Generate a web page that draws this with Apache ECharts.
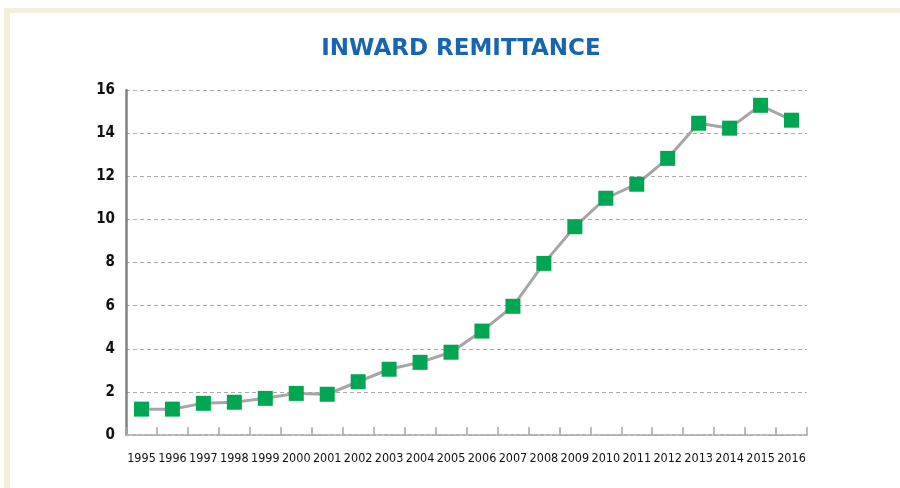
<!DOCTYPE html>
<html>
<head>
<meta charset="utf-8">
<script src="https://cdn.jsdelivr.net/npm/echarts@6/dist/echarts.min.js"></script>
<style>
  html, body { margin: 0; padding: 0; background: #fff; }
  #frame {
    position: absolute; left: 0; top: 0; width: 900px; height: 488px;
    box-sizing: border-box;
    border-top: 5px solid #f3efdc; border-left: 6px solid #f3efdc;
    margin-top: 8px; margin-left: 4px;
  }
  #chart { position: absolute; left: 0; top: 0; width: 900px; height: 488px; }
</style>
</head>
<body>
<div id="frame"></div>
<div id="chart"></div>
<script>
// 数据
const years = ['1995','1996','1997','1998','1999','2000','2001','2002','2003','2004','2005',
  '2006','2007','2008','2009','2010','2011','2012','2013','2014','2015','2016'];
const remittance = [1.2, 1.2, 1.47, 1.52, 1.7, 1.93, 1.89, 2.47, 3.05, 3.37, 3.84,
  4.82, 5.97, 7.96, 9.66, 10.98, 11.63, 12.83, 14.46, 14.23, 15.29, 14.6];
const yTicks = { min: 0, max: 16, interval: 2 };

const narrow = "'DejaVu Sans Condensed', 'Liberation Sans Narrow', 'Roboto Condensed', Roboto, sans-serif";

const myChart = echarts.init(document.getElementById('chart'));
myChart.setOption({
  animation: false,
  title: {
    text: 'INWARD REMITTANCE',
    left: 456,
    top: 33,
    textAlign: 'center',
    textStyle: {
      color: '#1565b0',
      fontFamily: 'DejaVu Sans',
      fontWeight: 'bold',
      fontSize: 23
    }
  },
  grid: { left: 126, right: 93, top: 90, bottom: 53 },
  xAxis: {
    type: 'category',
    data: years,
    boundaryGap: true,
    axisLine: {
      show: true,
      lineStyle: { color: '#b3b3b3', width: 2, type: [4, 2] }
    },
    axisTick: {
      show: true,
      inside: true,
      length: 8,
      lineStyle: { color: '#a8a8a8', width: 1.5 }
    },
    axisLabel: {
      interval: 0,
      margin: 17,
      color: '#111',
      fontFamily: narrow,
      fontSize: 12.5
    }
  },
  yAxis: {
    type: 'value',
    min: yTicks.min,
    max: yTicks.max,
    interval: yTicks.interval,
    axisLine: {
      show: true,
      lineStyle: { color: '#808080', width: 2.5 }
    },
    axisTick: { show: false },
    splitLine: {
      show: true,
      lineStyle: { color: '#aaaaaa', width: 1, type: [4, 3] }
    },
    axisLabel: {
      margin: 11,
      color: '#111',
      fontFamily: narrow,
      fontWeight: 'bold',
      fontSize: 15
    }
  },
  series: [{
    type: 'line',
    data: remittance,
    symbol: 'rect',
    symbolSize: 15,
    itemStyle: { color: '#00a651' },
    lineStyle: { color: '#a6a6a6', width: 3 },
    z: 3
  }]
});
</script>
</body>
</html>
